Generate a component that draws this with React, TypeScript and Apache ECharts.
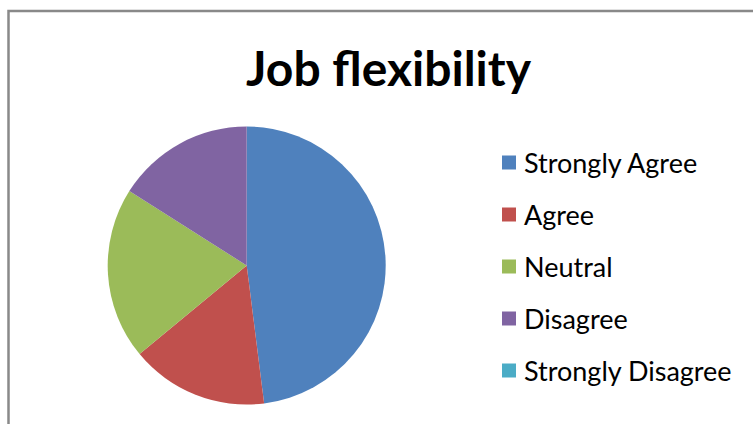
import React, { useEffect, useRef } from "react";
import * as echarts from "echarts";

const titleText = "Job flexibility";
const categories = ["Strongly Agree", "Agree", "Neutral", "Disagree", "Strongly Disagree"];
const values = [24, 8, 10, 8, 0];
const colors = ["#4F81BD", "#C0504D", "#9BBB59", "#8064A2", "#4BACC6"];

export default function App() {
  const ref = useRef<HTMLDivElement>(null);
  useEffect(() => {
    if (!ref.current) return;
    const chart = echarts.init(ref.current, undefined, { renderer: "svg" });
    chart.setOption({
      animation: false,
      backgroundColor: "#ffffff",
      color: colors,
      graphic: [
        {
          type: "rect",
          shape: { x: 8.5, y: 11, width: 800, height: 500 },
          style: { fill: "none", stroke: "#898989", lineWidth: 2.5 },
          silent: true,
          z: 0,
        },
        {
          type: "text",
          x: 388.5,
          y: 67,
          style: {
            text: titleText,
            fontFamily: "Lato",
            fontWeight: "bold",
            fontSize: 48,
            fill: "#000000",
            align: "center",
            verticalAlign: "middle",
          },
          z: 10,
        },
      ],
      legend: {
        orient: "vertical",
        left: 502,
        top: 149,
        padding: 0,
        itemWidth: 14,
        itemHeight: 14,
        itemGap: 25,
        icon: "rect",
        data: categories,
        textStyle: {
          fontFamily: "Lato",
          fontSize: 27,
          lineHeight: 27,
          color: "#000000",
          padding: [0, 0, 0, 3],
        },
        selectedMode: false,
      },
      series: [
        {
          type: "pie",
          center: [246.7, 265.5],
          radius: 139,
          startAngle: 90,
          clockwise: true,
          label: { show: false },
          labelLine: { show: false },
          emphasis: { disabled: true },
          itemStyle: { borderWidth: 0 },
          data: categories.map((c, i) => ({ name: c, value: values[i] })),
        },
      ],
    });
    return () => chart.dispose();
  }, []);
  return (
    <div
      ref={ref}
      style={{ position: "fixed", left: 0, top: 0, width: 753, height: 424 }}
    />
  );
}
